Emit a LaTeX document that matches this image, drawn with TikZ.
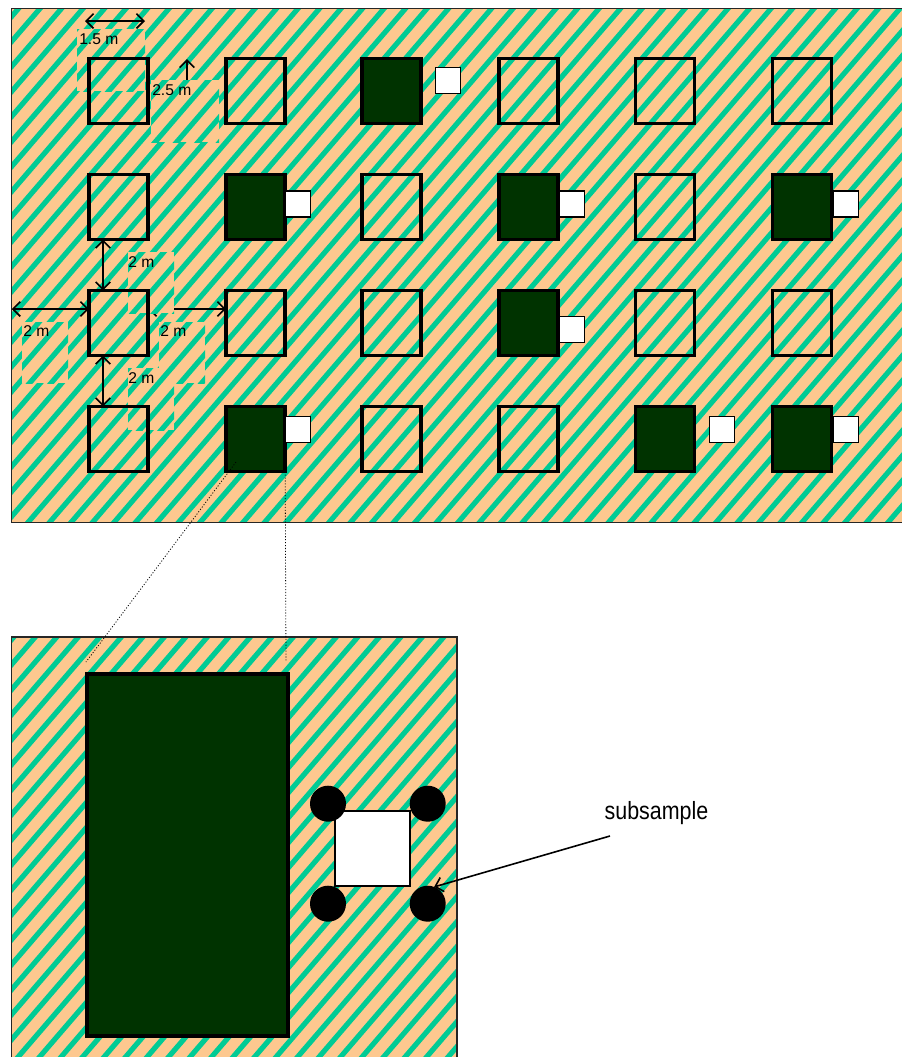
\documentclass[tikz,border=0pt]{standalone}
\usepackage{fontspec}
\setmainfont{Liberation Sans}
\newfontfamily\narrowfont[FakeStretch=0.86]{Liberation Sans}
\usepackage{tikz}
\usetikzlibrary{arrows.meta,positioning}
\definecolor{peachbg}{HTML}{FDC88F}
\definecolor{stripegreen}{HTML}{00CB95}
\definecolor{plotgreen}{HTML}{003300}
\pgfdeclarelayer{under}
\pgfsetlayers{under,main}
\tikzset{
	>={Straight Barb[length=5.5pt,width=11pt]},
	plotbox/.style={draw=black,line width=2.6pt,minimum width=44.5pt,minimum height=49pt,inner sep=0pt,outer sep=0pt},
	subbox/.style={draw=black,line width=1pt,fill=white,minimum width=18.5pt,minimum height=19.5pt,inner sep=0pt,outer sep=0pt},
	panelbox/.style={draw=black!85,line width=.9pt,inner sep=0pt,outer sep=0pt},
	dimline/.style={<->,line width=1.2pt},
	dimlabel/.style={font=\fontsize{11.7}{12}\selectfont,anchor=base west,inner sep=0pt},
	dot/.style={circle,fill=black,minimum size=27pt,inner sep=0pt,outer sep=0pt},
	zoomline/.style={line width=.6pt,dash pattern=on .8pt off 1.4pt}
}
% striped ground: x0,y0,x1,y1,phase
\newcommand{\hatchfield}[5]{
	\begin{scope}
		\clip (#1,#2) rectangle (#3,#4);
		\fill[peachbg] (#1,#2) rectangle (#3,#4);
		\foreach \k in {-1,...,88} {
			\draw[stripegreen,line width=3.9pt] ({21.5*(\k+#5)},0) -- (0,{25*(\k+#5)});
		}
	\end{scope}
}
\begin{document}
\begin{tikzpicture}[x=.75pt,y=-.75pt]
	\useasboundingbox (0,0) rectangle (901,1057);

	% Plots
	\foreach \c/\x in {1/118.5,2/255.5,3/391.5,4/528.5,5/665,6/802} {
		\foreach \r/\y in {1/91,2/207,3/323,4/439} {
			\node[plotbox] (p\r\c) at (\x,\y) {};
		}
	}
	\foreach \r/\c in {1/3,2/2,2/4,2/6,3/4,4/2,4/5,4/6} {
		\node[plotbox,fill=plotgreen] (f\r\c) at (p\r\c) {};
	}

	% Subsamples
	\foreach \n/\x/\y in {13/448/80.5,22/298/204,24/572/204,26/846/204,34/572/329.5,42/298/429.5,45/722/429.5,46/846/429.5} {
		\node[subbox] (s\n) at (\x,\y) {};
	}

	% Labels
	\node[dimlabel] (lab15) at (79,44) {1.5 m};
	\node[dimlabel] (lab25) at (152,95) {2.5 m};
	\node[dimlabel] (labup) at (128,267) {2 m};
	\node[dimlabel] (lableft) at (23,336) {2 m};
	\node[dimlabel] (labright) at (160,336) {2 m};
	\node[dimlabel] (labdown) at (128,383) {2 m};

	% Enlarged plot
	\node[plotbox,line width=3pt,fill=plotgreen,minimum width=151pt,minimum height=271pt] (bigplot) at (187.5,855) {};
	\node[subbox,line width=1.1pt,minimum width=56.5pt,minimum height=56pt] (bigsub) at (372.5,848.5) {};
	\node[dot] (d1) at (328,803.7) {};
	\node[dot] (d2) at (427.7,803.7) {};
	\node[dot] (d3) at (328,903.7) {};
	\node[dot] (d4) at (427.7,903.7) {};
	\node[font=\narrowfont\fontsize{18.7}{20}\selectfont,inner sep=0pt] (subs) at (656.5,813.5) {subsample};

	\coordinate (subsarm) at (610,836);
	\draw[->,line width=1.2pt] (subsarm) -- (d4.69);

	% Lines to enlarged plot
	\coordinate (zooma) at (236,462);
	\coordinate (zoomb) at (86,662);
	\coordinate (zoomc) at (286,661);
	\draw[zoomline] (zooma) -- (zoomb);
	\draw[zoomline] (f42.south east) -- (zoomc);

	\begin{pgfonlayer}{under}
		\hatchfield{11.5}{8.5}{910}{522.5}{.2}
		\node[panelbox,minimum width=673.5pt,minimum height=385.5pt] (field) at (460.75,265.5) {};
		\hatchfield{11.5}{637}{457}{1070}{.12}
		\node[panelbox,minimum width=334pt,minimum height=324.75pt] (zoomfield) at (234.25,853.5) {};

		% Arrows
		\coordinate (armx) at (103,0);
		\coordinate (army) at (0,309);
		\coordinate (top15a) at (85,21);
		\coordinate (top15b) at (145,21);
		\coordinate (arm25) at (187,59);
		\draw[dimline] (top15a) -- (top15b);
		\draw[->,line width=1.2pt] (arm25 |- lab25.north) -- (arm25);
		\draw[dimline] (p21.south -| armx) -- (p31.north -| armx);
		\draw[dimline] (p31.south -| armx) -- (p41.north -| armx);
		\draw[dimline] (field.west |- army) -- (p31.west |- army);
		\draw[dimline] (p31.east |- army) -- (p32.west |- army);

		% Patches behind the labels
		\hatchfield{77}{29}{145}{91}{.7}
		\hatchfield{151}{80}{219}{142}{.9}
		\hatchfield{128}{252}{174}{313}{.7}
		\hatchfield{22}{322}{68}{383}{.7}
		\hatchfield{159}{322}{205}{383}{.7}
		\hatchfield{128}{368}{174}{430}{.7}
	\end{pgfonlayer}
\end{tikzpicture}
\end{document}
